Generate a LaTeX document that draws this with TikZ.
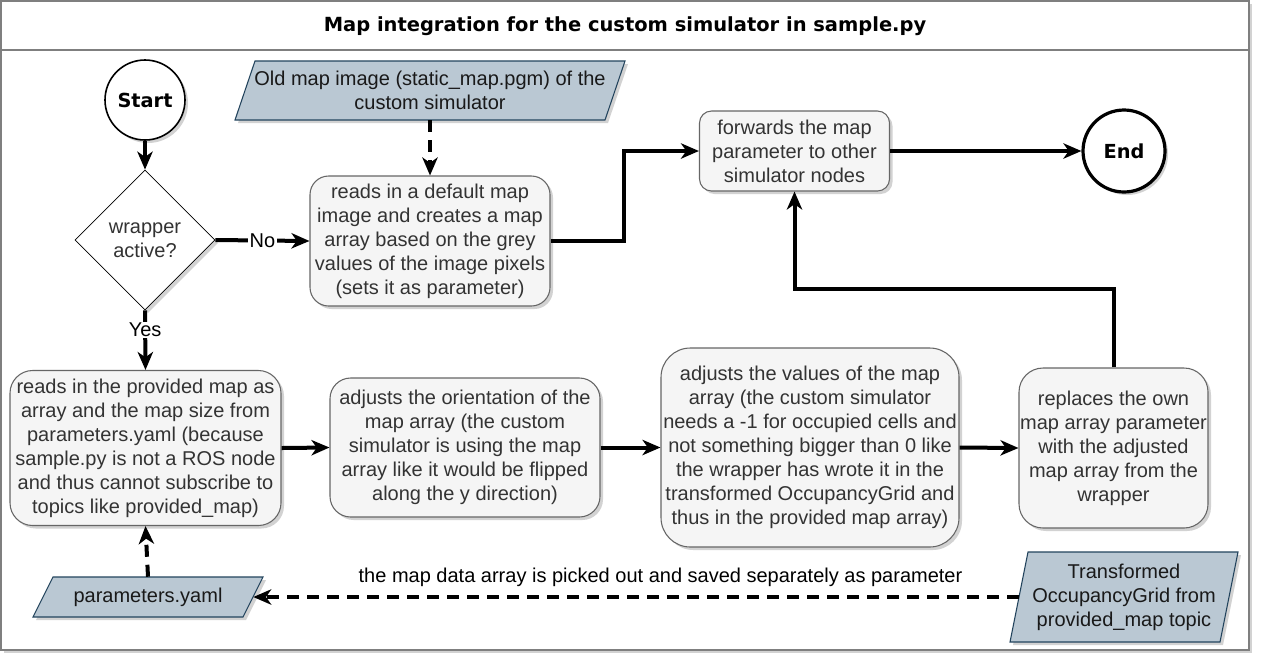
\documentclass[tikz,border=0pt]{standalone}
\usepackage{fontspec}
\setmainfont{Liberation Sans}
\newfontfamily\titlefont{DejaVu Sans}
\usetikzlibrary{arrows.meta,shapes.geometric,shadows,calc}
\definecolor{boxfill}{HTML}{F5F5F5}
\definecolor{boxdraw}{HTML}{666666}
\definecolor{boxtext}{HTML}{333333}
\definecolor{iofill}{HTML}{BAC8D3}
\definecolor{iodraw}{HTML}{23445D}
\definecolor{framecol}{HTML}{7F7F7F}
\begin{document}
\begin{tikzpicture}[x=0.75pt,y=-0.75pt,
  shad/.style={drop shadow={shadow xshift=2.25pt,shadow yshift=-2.25pt,opacity=0.25,fill=black!70}},
  procbox/.style={draw=boxdraw,fill=boxfill,text=boxtext,line width=0.8pt,align=center,inner sep=0pt,font=\fontsize{15}{18}\selectfont,shad},
  iotext/.style={align=center,inner sep=0pt,font=\fontsize{15}{18}\selectfont,text=black!90},
  iobody/.style={draw=iodraw,fill=iofill,line width=0.8pt,shad},
  flow/.style={line width=3pt,-{Stealth[length=13.5pt,width=11.5pt,inset=4pt]}},
  dflow/.style={flow,dash pattern=on 9pt off 6pt},
  lbl/.style={fill=white,inner sep=1pt,font=\fontsize{15}{18}\selectfont},
  terminal/.style={circle,draw=black,fill=white,font=\titlefont\bfseries\fontsize{14.5}{17}\selectfont,inner sep=0pt,shad}
]
\useasboundingbox (0,0) rectangle (1262,662);
\fill[white] (0,0) rectangle (1262,662);

% frame
\draw[draw=framecol,line width=0.8pt,fill=white,shad] (1,1) rectangle (1249,650);
\draw[draw=framecol,line width=0.8pt] (1,50) -- (1249,50);
\node[font=\titlefont\bfseries\fontsize{14.6}{17}\selectfont] (title) at (625,26) {Map integration for the custom simulator in sample.py};

% terminals and decision
\node[terminal,minimum size=60pt,line width=1.2pt] (start) at (145,100) {Start};
\node[terminal,minimum size=61.5pt,line width=2.4pt] (end) at (1124,151) {End};
\node[diamond,draw=black,fill=white,line width=0.6pt,aspect=1,minimum width=105pt,minimum height=105pt,inner sep=0pt,align=center,font=\fontsize{15}{18}\selectfont,text=boxtext,shad] (dec) at (145,240) {wrapper\\active?};

% process boxes
\node[procbox,rounded corners=14pt,minimum width=180pt,minimum height=97.5pt] (defmap) at (430,241)
  {reads in a default map\\image and creates a map\\array based on the grey\\values of the image pixels\\(sets it as parameter)};
\node[procbox,rounded corners=9pt,minimum width=142.5pt,minimum height=60pt] (fwd) at (794.5,151)
  {forwards the map\\parameter to other\\simulator nodes};
\node[procbox,rounded corners=17pt,minimum width=203.25pt,minimum height=116.25pt] (readp) at (145.5,448)
  {reads in the provided map as\\array and the map size from\\parameters.yaml (because\\sample.py is not a ROS node\\and thus cannot subscribe to\\topics like provided\_map)};
\node[procbox,rounded corners=15.5pt,minimum width=202.5pt,minimum height=104.25pt] (orient) at (465,447.5)
  {adjusts the orientation of the\\map array (the custom\\simulator is using the map\\array like it would be flipped\\along the y direction)};
\node[procbox,rounded corners=22pt,minimum width=223.5pt,minimum height=149.25pt] (values) at (810,447.5)
  {adjusts the values of the map\\array (the custom simulator\\needs a -1 for occupied cells and\\not something bigger than 0 like\\the wrapper has wrote it in the\\transformed OccupancyGrid and\\thus in the provided map array)};
\node[procbox,rounded corners=18pt,minimum width=141.75pt,minimum height=120pt] (repl) at (1113.5,448)
  {replaces the own\\map array parameter\\with the adjusted\\map array from the\\wrapper};

% data (parallelograms)
\path[iobody] (255,61) -- (625,61) -- (605,120) -- (235,120) -- cycle;
\node[iotext,minimum width=277.5pt,minimum height=44.25pt] (oldmap) at (430,90.5)
  {Old map image (static\_map.pgm) of the\\custom simulator};
\path[iobody] (53,577) -- (263,577) -- (243,617) -- (33,617) -- cycle;
\node[iotext,minimum width=157.5pt,minimum height=30pt] (params) at (148,597) {parameters.yaml};
\path[iobody] (1028,552) -- (1238,552) -- (1220,642) -- (1010,642) -- cycle;
\node[iotext,minimum width=157.5pt,minimum height=67.5pt] (trans) at (1124,597)
  {Transformed\\OccupancyGrid from\\provided\_map topic};

% connectors
\draw[flow] (start) -- (dec);
\draw[flow] (dec.east) -- node[lbl,pos=0.5] {No} (defmap.west);
\draw[flow] (dec.south) -- node[lbl,pos=0.33] {Yes} (readp.north);
\draw[dflow] (oldmap.south) -- (defmap.north);
\draw[flow] (defmap.east) -- ++(73,0) |- (fwd.west);
\draw[flow] (fwd.east) -- (end.west);
\draw[flow] (readp.east) -- (orient.west);
\draw[flow] (orient.east) -- (values.west);
\draw[flow] (values.east) -- (repl.west);
\draw[flow] (repl.north) -- ++(0,-78) -| (fwd.south);
\draw[dflow] (params.north) -- (readp.south);
\draw[dflow] (trans.west) -- node[pos=0.468,yshift=15pt,font=\fontsize{15}{18}\selectfont,inner sep=0pt] {the map data array is picked out and saved separately as parameter} (params.east);
\end{tikzpicture}
\end{document}
